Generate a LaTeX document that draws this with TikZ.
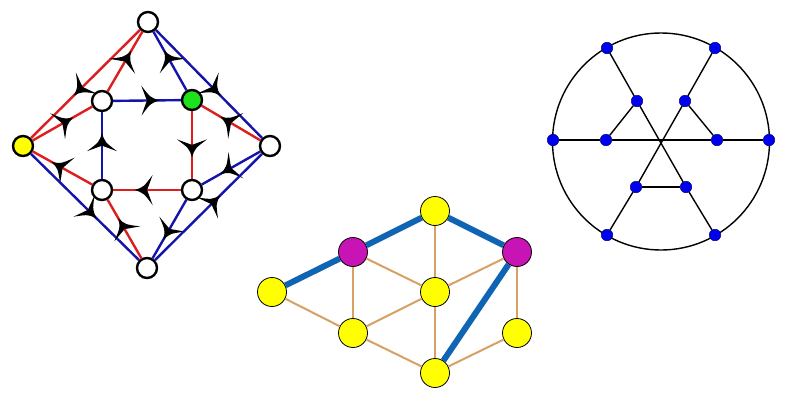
\documentclass[tikz,border=0pt]{standalone}
\definecolor{ered}{RGB}{220,30,30}
\definecolor{eblue}{RGB}{20,20,170}
\definecolor{nyellow}{RGB}{255,255,0}
\definecolor{ngreen}{RGB}{30,225,30}
\definecolor{etan}{RGB}{215,160,100}
\definecolor{thickblue}{RGB}{15,100,180}
\definecolor{nmag}{RGB}{200,20,180}
\definecolor{dotblue}{RGB}{0,0,240}
\definecolor{dotrim}{RGB}{0,0,120}
\tikzset{pics/ahead/.style={code={\fill[black] (9pt,0pt) .. controls (0pt,3pt) .. (-9pt,15pt)
        -- (-3.5pt,0pt) -- (-9pt,-15pt) .. controls (0pt,-3pt) .. (9pt,0pt) -- cycle;}}}
\begin{document}
\begin{tikzpicture}[x=1pt,y=-1pt,
  lnode/.style={circle,draw=black,line width=2.4pt,fill=white,minimum size=20pt,inner sep=0pt},
  redge/.style={draw=ered,line width=2.4pt},
  bedge/.style={draw=eblue,line width=2.4pt},
  hd/.style={pos=0.55,sloped,allow upside down},
  mnode/.style={circle,draw=black,line width=0.8pt,fill=nyellow,minimum size=29pt,inner sep=0pt},
  tedge/.style={draw=etan,line width=2pt},
  thedge/.style={draw=thickblue,line width=6pt},
  dot/.style={circle,draw=dotrim,line width=0.5pt,fill=dotblue,minimum size=11.5pt,inner sep=0pt},
  kedge/.style={draw=black,line width=1.4pt}
]
\useasboundingbox (0,0) rectangle (800,400);

% ---------- left diagram ----------
\node[lnode] (lT) at (148,22) {};
\node[lnode,fill=nyellow] (lL) at (23,146) {};
\node[lnode] (lR) at (270,146) {};
\node[lnode] (lB) at (147,268) {};
\node[lnode] (lUL) at (102,101) {};
\node[lnode,fill=ngreen] (lUR) at (192,100) {};
\node[lnode] (lLL) at (102,190) {};
\node[lnode] (lLR) at (192,190) {};

\draw[redge] (lT) -- (lL) pic[hd]{ahead};
\draw[redge] (lUL) -- (lT) pic[hd]{ahead};
\draw[bedge] (lUR) -- (lT) pic[hd]{ahead};
\draw[bedge] (lT) -- (lR) pic[hd]{ahead};
\draw[redge] (lL) -- (lUL) pic[hd]{ahead};
\draw[redge] (lLL) -- (lL) pic[hd]{ahead};
\draw[bedge] (lL) -- (lB) pic[hd]{ahead};
\draw[bedge] (lUL) -- (lUR) pic[hd]{ahead};
\draw[bedge] (lLL) -- (lUL) pic[hd]{ahead};
\draw[redge] (lUR) -- (lLR) pic[hd]{ahead};
\draw[redge] (lLR) -- (lLL) pic[hd]{ahead};
\draw[redge] (lR) -- (lUR) pic[hd]{ahead};
\draw[bedge] (lR) -- (lLR) pic[hd]{ahead};
\draw[bedge] (lLR) -- (lB) pic[hd]{ahead};
\draw[bedge] (lB) -- (lR) pic[hd]{ahead};
\draw[redge] (lB) -- (lLL) pic[hd]{ahead};

% ---------- middle diagram ----------
\node[mnode] (mT) at (435,211) {};
\node[mnode,fill=nmag] (mML) at (353,252) {};
\node[mnode,fill=nmag] (mMR) at (517,252) {};
\node[mnode] (mL) at (272,292) {};
\node[mnode] (mC) at (435,292) {};
\node[mnode] (mLL) at (353,333) {};
\node[mnode] (mLR) at (517,333) {};
\node[mnode] (mB) at (435,373) {};

\draw[tedge] (mML) -- (mC);
\draw[tedge] (mML) -- (mLL);
\draw[tedge] (mT) -- (mC);
\draw[tedge] (mMR) -- (mC);
\draw[tedge] (mMR) -- (mLR);
\draw[tedge] (mL) -- (mLL);
\draw[tedge] (mLL) -- (mC);
\draw[tedge] (mLL) -- (mB);
\draw[tedge] (mC) -- (mB);
\draw[tedge] (mLR) -- (mB);
\draw[thedge] (mL) -- (mML);
\draw[thedge] (mML) -- (mT);
\draw[thedge] (mT) -- (mMR);
\draw[thedge] (mMR) -- (mB);

% ---------- right diagram ----------
\coordinate (rc) at (661,141.5);
\draw[kedge] (rc) circle[radius=108.5pt];
\node[dot] (o0) at (769,140) {};
\node[dot] (o60) at (715,48) {};
\node[dot] (o120) at (607,48) {};
\node[dot] (o180) at (553,140) {};
\node[dot] (o240) at (607,235) {};
\node[dot] (o300) at (715,235) {};
\node[dot] (i0) at (717,140) {};
\node[dot] (i60) at (685,101) {};
\node[dot] (i120) at (637,101) {};
\node[dot] (i180) at (606,140) {};
\node[dot] (i240) at (636,187) {};
\node[dot] (i300) at (686,187) {};

\draw[kedge] (o120) -- (i120);
\draw[kedge] (i120) -- (i300);
\draw[kedge] (i300) -- (o300);
\draw[kedge] (o60) -- (i60);
\draw[kedge] (i60) -- (i240);
\draw[kedge] (i240) -- (o240);
\draw[kedge] (o180) -- (i180);
\draw[kedge] (i180) -- (i0);
\draw[kedge] (i0) -- (o0);
\draw[kedge] (i120) -- (i180);
\draw[kedge] (i60) -- (i0);
\draw[kedge] (i240) -- (i300);
\end{tikzpicture}
\end{document}
